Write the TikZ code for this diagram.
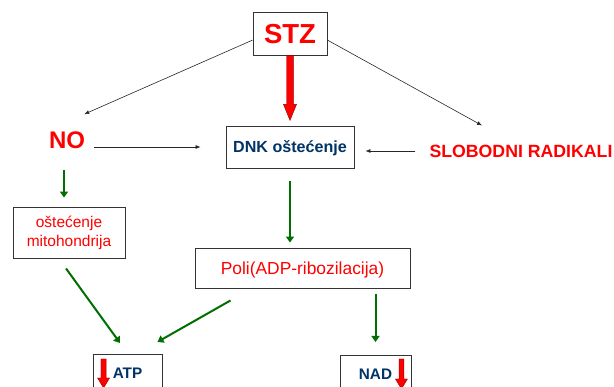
\documentclass[tikz,border=0pt]{standalone}
\usepackage{fontspec}
\setmainfont{Liberation Sans}
\usetikzlibrary{calc,arrows.meta}
\definecolor{navytext}{RGB}{0,51,102}
\definecolor{darkgreen}{RGB}{0,110,0}
\tikzset{
    node distance=113.5pt, % centre to centre, STZ to DNK
    }

\begin{document}
\begin{tikzpicture}[x=1pt,y=1pt,
boxnode/.style={rectangle, draw=black!80, line width=0.9pt, inner sep=0pt},
plainnode/.style={inner sep=2pt, text depth=0pt},
thinarrow/.style={-{Latex[length=5pt,width=4pt]}, black!85, line width=0.6pt},
greenarrow/.style={-{Triangle[length=6pt,width=8pt]}, darkgreen, line width=2pt},
redarrow/.style={fill=red, draw=red!55!black, line width=0.4pt},
]
\useasboundingbox (0,0) rectangle (614,387);

\node[boxnode, minimum width=74pt, minimum height=43pt, text height=19.7pt, text depth=0pt,
      font=\fontsize{27.5}{30}\selectfont\bfseries, text=red] (stz) at (290,353.5) {STZ};
\node[boxnode, minimum width=128pt, minimum height=42pt, text height=11.5pt, text depth=0pt,
      font=\fontsize{16.1}{18}\selectfont\bfseries, text=navytext] (dnk) [below of=stz] {DNK oštećenje};
\node[plainnode, text height=17.2pt, font=\fontsize{24}{28}\selectfont\bfseries, text=red] (no) at (67,247) {NO};
\node[plainnode, text height=12.7pt, font=\fontsize{17.7}{20}\selectfont\bfseries, text=red] (slob) at (521,236) {SLOBODNI RADIKALI};
\node[boxnode, minimum width=112pt, minimum height=51pt, align=center,
      font=\fontsize{15.5}{19}\selectfont, text=red] (mito) at (69,154.5) {oštećenje\\mitohondrija};
\node[boxnode, minimum width=215pt, minimum height=40pt, text height=12.4pt, text depth=0pt,
      font=\fontsize{17.4}{20}\selectfont, text=red] (poli) at (302.5,119) {Poli(ADP-ribozilacija)};
\node[boxnode, anchor=north, minimum width=69pt, inner ysep=13.6pt, text height=10.7pt, text depth=30pt,
      font=\fontsize{15.3}{18}\selectfont\bfseries, text=navytext] (atp) at (127.5,33) {ATP};
\node[boxnode, anchor=north, minimum width=71pt, inner ysep=13.6pt, text height=10.7pt, text depth=30pt,
      font=\fontsize{15.3}{18}\selectfont\bfseries, text=navytext] (nad) at (375.5,32) {NAD};

\draw[thinarrow] (stz.190) -- ($(no.north east)+(-3,15)$);
\draw[thinarrow] (stz.-10) -- ($(slob.north)+(-39,17)$);
\draw[thinarrow, shorten <=7pt, shorten >=25pt] (no.east |- dnk.west) -- (dnk.west);
\draw[thinarrow, shorten <=12pt, shorten >=11pt] (slob.west) -- (slob.west -| dnk.east);

\draw[greenarrow, shorten <=19pt, shorten >=9pt] ([xshift=-3pt]no.south) -- ([xshift=-3pt]no.south |- mito.north);
\draw[greenarrow, shorten <=13pt, shorten >=5pt] (dnk.south) -- (dnk.south |- poli.north);
\draw[greenarrow] ($(mito.south)+(-3,-10)$) -- ($(atp.north)+(-7.5,11)$);
\draw[greenarrow] ($(poli.south west)+(36,-12)$) -- ($(atp.north east)+(-5,12)$);
\draw[greenarrow, shorten <=6pt, shorten >=13pt] (nad.north |- poli.south) -- (nad.north);

% red block arrows
\filldraw[redarrow] (stz.south) ++(-3.3,0) -- ++(0,-49) -- ++(-3.2,0) -- ++(6.5,-16) -- ++(6.5,16) -- ++(-3.2,0) -- ++(0,49) -- cycle;
\filldraw[redarrow] ($(atp.north west)+(11,-5)$) ++(-2.6,0) -- ++(0,-19) -- ++(-3.4,0) -- ++(6,-10) -- ++(6,10) -- ++(-3.4,0) -- ++(0,19) -- cycle;
\filldraw[redarrow] ($(nad.north east)+(-10,-4)$) ++(-2.4,0) -- ++(0,-20) -- ++(-3.6,0) -- ++(6,-10) -- ++(6,10) -- ++(-3.6,0) -- ++(0,20) -- cycle;
\end{tikzpicture}
\end{document}
